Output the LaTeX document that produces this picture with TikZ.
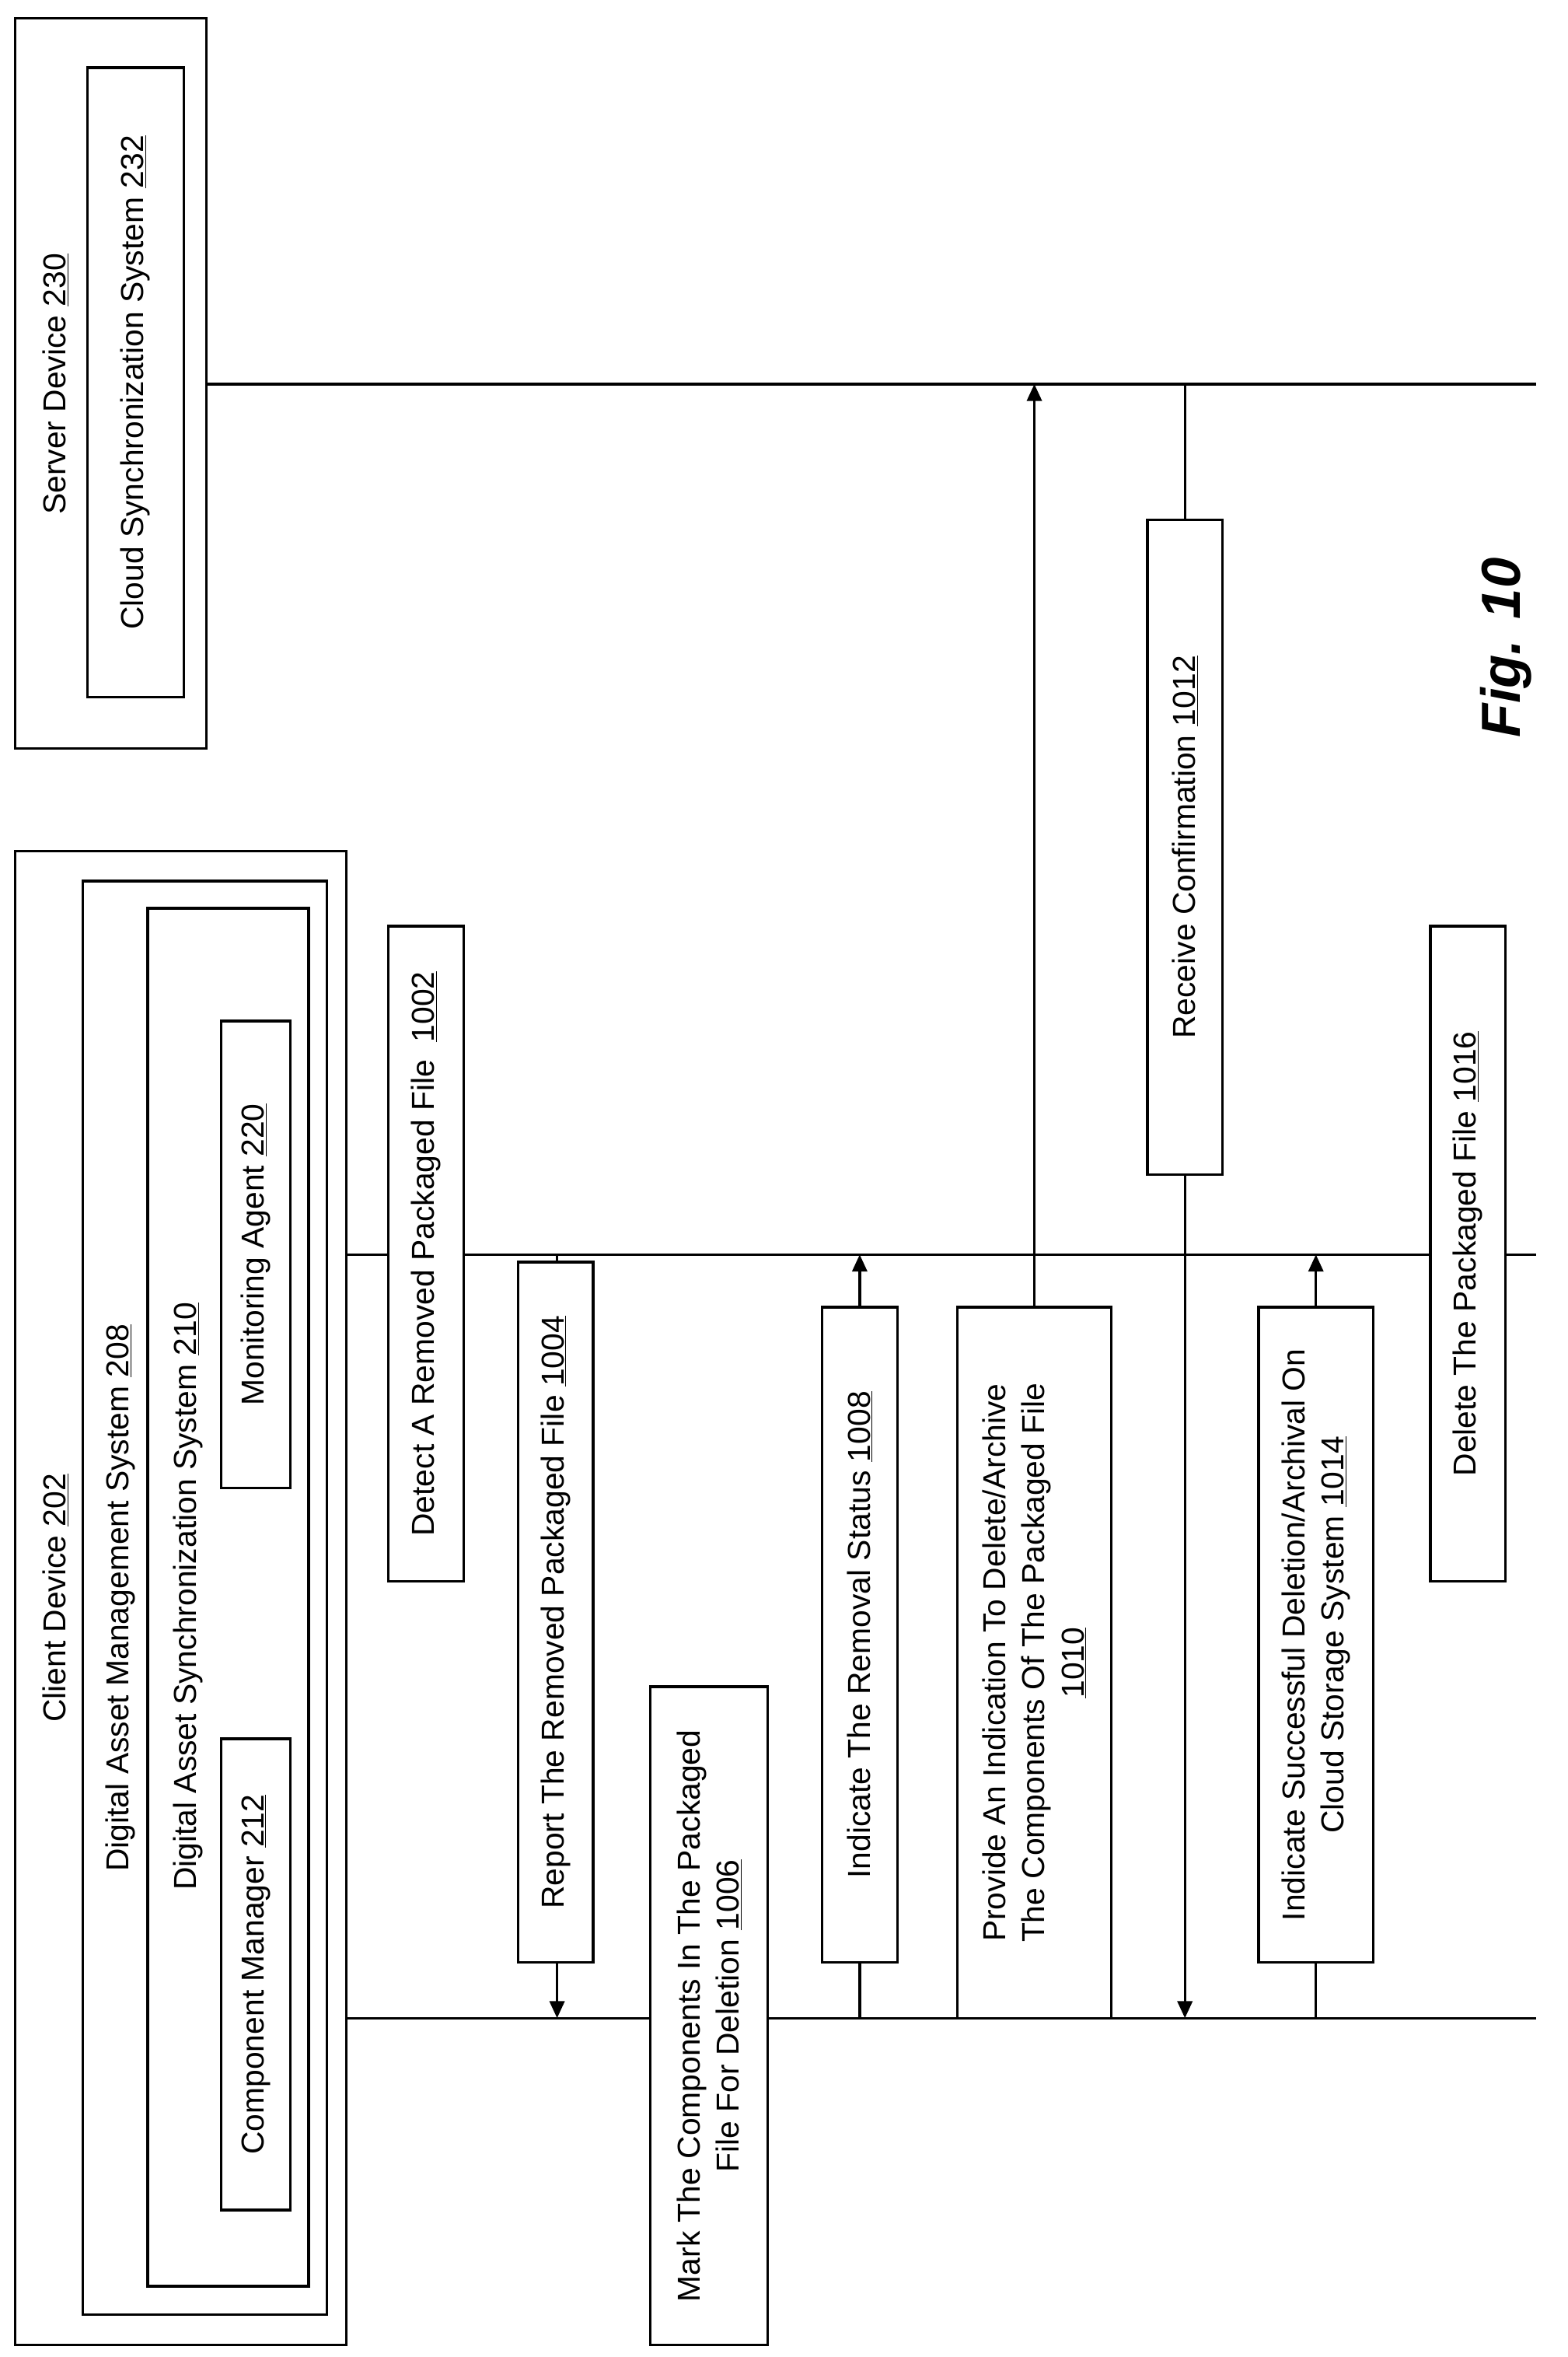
\documentclass[tikz,border=0pt]{standalone}
\usepackage{fontspec}
\setmainfont{Liberation Sans}
\usetikzlibrary{arrows.meta}

\tikzset{
  box/.style={draw, line width=2.5pt, fill=white, rotate=90, inner sep=0pt, align=center},
  life/.style={line width=2.5pt},
  msg/.style={line width=2.5pt, -{Triangle[length=16pt,width=14pt]}}
}
\newcommand{\num}[1]{\underline{#1}}

\begin{document}
\begin{tikzpicture}[x=0.05cm, y=-0.05cm, font=\fontsize{30}{37}\selectfont]
    \useasboundingbox (0,0) rectangle (1041,1565);

    % Server device
    \node[box, minimum width=24.25cm, minimum height=6.35cm] (server) at (73.5,254.5) {};
    \node[rotate=90] (serverlbl) at (37,255) {Server Device \num{230}};
    \node[box, minimum width=20.9cm, minimum height=3.2cm] (cloud) at (90,254) {Cloud Synchronization System \num{232}};

    % Client device
    \node[box, minimum width=49.6cm, minimum height=11cm] (client) at (120,1061) {};
    \node[rotate=90] (clientlbl) at (37,1061) {Client Device \num{202}};
    \node[box, minimum width=47.6cm, minimum height=8.1cm] (dams) at (136,1061) {};
    \node[rotate=90] (damslbl) at (80,1061) {Digital Asset Management System \num{208}};
    \node[box, minimum width=45.75cm, minimum height=5.35cm] (dass) at (151.5,1060.5) {};
    \node[rotate=90] (dasslbl) at (125,1060) {Digital Asset Synchronization System \num{210}};
    \node[box, minimum width=15.5cm, minimum height=2.3cm] (agent) at (170,833) {Monitoring Agent \num{220}};
    \node[box, minimum width=15.65cm, minimum height=2.3cm] (compmgr) at (170,1311) {Component Manager \num{212}};

    % Lifelines
    \coordinate (s0) at (137,255);   \coordinate (s1) at (1020,255);
    \coordinate (m0) at (230,833);   \coordinate (m1) at (1020,833);
    \coordinate (c0) at (230,1340);  \coordinate (c1) at (1020,1340);
    \draw[life] (s0) -- (s1);
    \draw[life] (m0) -- (m1);
    \draw[life] (c0) -- (c1);

    % Messages
    \coordinate (a1) at (370,833);  \coordinate (a2) at (370,1340);
    \coordinate (b1) at (571,1340); \coordinate (b2) at (571,833);
    \coordinate (d1) at (687,1340); \coordinate (d2) at (687,255);
    \coordinate (e1) at (787,255);  \coordinate (e2) at (787,1340);
    \coordinate (f1) at (874,1340); \coordinate (f2) at (874,833);
    \draw[msg] (a1) -- (a2);
    \draw[msg] (b1) -- (b2);
    \draw[msg] (d1) -- (d2);
    \draw[msg] (e1) -- (e2);
    \draw[msg] (f1) -- (f2);

    % Steps
    \node[box, minimum width=21.75cm, minimum height=2.5cm] (s1002) at (283,832.5) {Detect A Removed Packaged File\ \ \num{1002}};
    \node[box, minimum width=23.25cm, minimum height=2.5cm] (s1004) at (369,1070.5) {Report The Removed Packaged File \num{1004}};
    \node[box, minimum width=21.85cm, minimum height=3.9cm] (s1006) at (471,1338.5) {Mark The Components In The Packaged\\File For Deletion \num{1006}};
    \node[box, minimum width=21.75cm, minimum height=2.5cm] (s1008) at (571,1085.5) {Indicate The Removal Status \num{1008}};
    \node[box, minimum width=23.6cm, minimum height=5.1cm] (s1010) at (687,1104) {Provide An Indication To Delete/Archive\\The Components Of The Packaged File\\\num{1010}};
    \node[box, minimum width=21.75cm, minimum height=2.5cm] (s1012) at (787,562.5) {Receive Confirmation \num{1012}};
    \node[box, minimum width=21.75cm, minimum height=3.8cm] (s1014) at (874,1085.5) {Indicate Successful Deletion/Archival On\\Cloud Storage System \num{1014}};
    \node[box, minimum width=21.75cm, minimum height=2.5cm] (s1016) at (975,832.5) {Delete The Packaged File \num{1016}};

    % Figure label
    \node[rotate=90, font=\fontsize{52}{60}\selectfont\bfseries\itshape] (fig) at (1000,430) {Fig. 10};
\end{tikzpicture}
\end{document}
